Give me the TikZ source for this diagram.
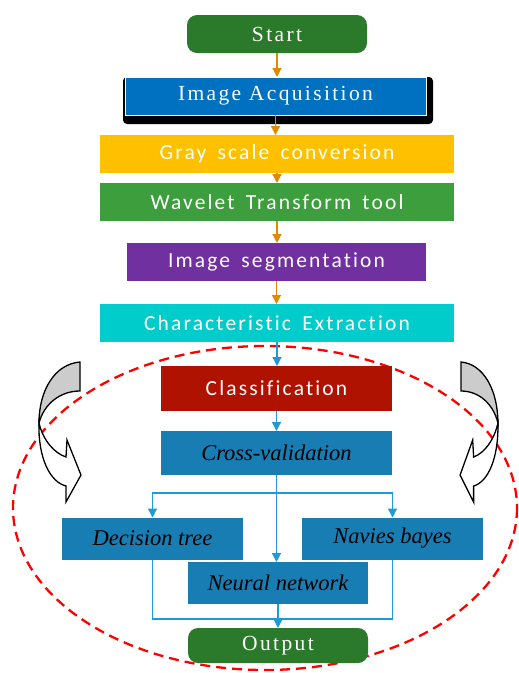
\documentclass[tikz,border=0pt]{standalone}
\usepackage{fontspec}
\setmainfont{Liberation Serif}
\newfontfamily\boxsans[LetterSpace=10,WordSpace=1.6,Ligatures=NoCommon]{Carlito}
\newfontfamily\boxserif[LetterSpace=11]{Liberation Serif}
\usetikzlibrary{arrows.meta,calc}
\definecolor{startgreen}{HTML}{2B7A2B}
\definecolor{acqblue}{HTML}{0070C0}
\definecolor{grayyellow}{HTML}{FFC000}
\definecolor{wavegreen}{HTML}{3C9E3C}
\definecolor{segpurple}{HTML}{7030A0}
\definecolor{charcyan}{HTML}{00CCCC}
\definecolor{classred}{HTML}{B01200}
\definecolor{modelblue}{HTML}{187DB3}
\definecolor{arroworange}{HTML}{E08A00}
\definecolor{arrowblue}{HTML}{1F9AD6}
\definecolor{shadegray}{HTML}{CCCCCC}
\begin{document}
\begin{tikzpicture}[x=1pt,y=-1pt,
  box/.style={rectangle,inner sep=0pt,outer sep=0pt,anchor=center},
  termbox/.style={box,rounded corners=10pt,fill=startgreen,text=white,
    font=\boxserif\fontsize{21.5}{23}\selectfont},
  sansbox/.style={box,text=white,font=\boxsans\fontsize{21.5}{24}\selectfont},
  serifbox/.style={box,text=white,font=\boxserif\fontsize{21.5}{23}\selectfont},
  modelbox/.style={box,fill=modelblue,text=black,font=\itshape\fontsize{22.5}{24}\selectfont},
  oarrow/.style={draw=arroworange,line width=1.2pt,-{Triangle[width=9pt,length=9pt]}},
  barrow/.style={draw=arrowblue,line width=1.2pt,-{Triangle[width=9pt,length=9pt]}},
  bline/.style={draw=arrowblue,line width=1.2pt},
  curlarrow/.style={draw=black,line width=1.3pt,line join=miter},
  ring/.style={draw=red,line width=2.3pt,dash pattern=on 10pt off 6pt}
]
\useasboundingbox (0,0) rectangle (519,673);

% dashed ellipse (behind)
\draw[ring] (265,508) ellipse [x radius=252, y radius=162];

% curved arrows
\begin{scope}
  \draw[curlarrow,fill=shadegray] (80,362) .. controls (55,364) and (39,390) .. (39,423)
      .. controls (44,404) and (60,391) .. (80,391) -- cycle;
  \draw[curlarrow,fill=white] (39,423) .. controls (38,458) and (50,482) .. (66,486)
      -- (66,502) -- (81,475) -- (67,440) -- (66,457)
      .. controls (54,453) and (43,440) .. (39,423) -- cycle;
\end{scope}
\begin{scope}[xshift=533pt,xscale=-0.9]
  \draw[curlarrow,fill=shadegray] (80,362) .. controls (55,364) and (39,390) .. (39,423)
      .. controls (44,404) and (60,391) .. (80,391) -- cycle;
  \draw[curlarrow,fill=white] (39,423) .. controls (38,458) and (50,482) .. (66,486)
      -- (66,502) -- (81,475) -- (67,440) -- (66,457)
      .. controls (54,453) and (43,440) .. (39,423) -- cycle;
\end{scope}

% shadow of Image Acquisition
\fill[black,rounded corners=4pt] (123,77) rectangle (433,124);

% nodes
\node[termbox,minimum width=180pt,minimum height=38pt] (start) at (277,34) {Start};
\node[serifbox,fill=acqblue,draw=white,line width=0.6pt,minimum width=301pt,minimum height=38pt] (acq) at (275.5,96) {Image Acquisition};
\node[sansbox,fill=grayyellow,minimum width=354pt,minimum height=38pt] (gray) at (277,154) {Gray scale conversion};
\node[sansbox,fill=wavegreen,minimum width=354pt,minimum height=38pt] (wave) at (277,202) {Wavelet Transform tool};
\node[sansbox,fill=segpurple,minimum width=299pt,minimum height=38pt] (seg) at (276.5,262) {Image segmentation};
\node[sansbox,fill=charcyan,minimum width=354pt,minimum height=38pt] (char) at (277,323) {Characteristic Extraction};
\node[sansbox,fill=classred,minimum width=231pt,minimum height=45pt] (class) at (276.5,388.5) {Classification};
\node[modelbox,minimum width=231pt,minimum height=44pt] (cross) at (276.5,453) {Cross-validation};
\node[modelbox,minimum width=181pt,minimum height=42pt] (dt) at (152.5,538.5) {Decision tree};
\node[modelbox,minimum width=181pt,minimum height=42pt] (nb) at (392.5,538.5) {Navies bayes};
\node[modelbox,minimum width=180pt,minimum height=42pt] (nn) at (278,583) {Neural network};
\node[termbox,minimum width=180pt,minimum height=35pt] (out) at (278,645.5) {Output};

% orange connectors
\draw[oarrow] (start.south) -- (start.south |- acq.north);
\draw[oarrow] (acq.south) -- (acq.south |- gray.north);
\draw[oarrow] (gray.south) -- (gray.south |- wave.north);
\draw[oarrow] (wave.south) -- (wave.south |- seg.north);
\draw[oarrow] (seg.south) -- (seg.south |- char.north);

% blue connectors
\draw[barrow] (char.south) -- (char.south |- class.north);
\draw[barrow] (class.south) -- (class.south |- cross.north);
\draw[barrow] (cross.south) -- (cross.south |- nn.north);
\coordinate (branch) at (276.5,493);
\draw[barrow] (branch) -| (dt.north);
\draw[barrow] (branch) -| (nb.north);
\coordinate (merge) at (278,619);
\draw[bline] (dt.south) |- (merge) -| (nb.south);
\draw[barrow] (nn.south) -- (out.north);
\end{tikzpicture}
\end{document}
